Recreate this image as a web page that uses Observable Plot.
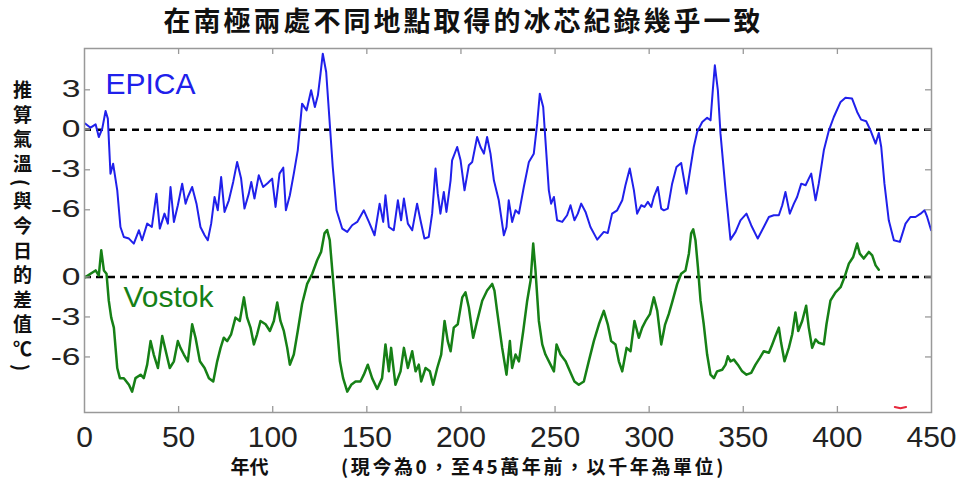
<!DOCTYPE html>
<html><head><meta charset="utf-8">
<script src="https://cdn.jsdelivr.net/npm/d3@7"></script>
<script src="https://cdn.jsdelivr.net/npm/@observablehq/plot@0.6"></script>
<style>body{margin:0;background:#fff;} svg{display:block;}</style>
</head><body><div id="chart"></div>
<script>
const titleText = "在南極兩處不同地點取得的冰芯紀錄幾乎一致";
const yLabel = "推算氣溫(與今日的差值℃)";
const xLabelMain = "年代";
const xLabelNote = "(現今為0，至45萬年前，以千年為單位)";
const seriesNames = ["EPICA", "Vostok"];
const xTicks = [0, 50, 100, 150, 200, 250, 300, 350, 400, 450];
const epicaTicks = [3, 0, -3, -6];
const vostokTicks = [0, -3, -6];
const vostokOffset = -11.04;

const epicaAge = [0.5,3.2,5.9,7.6,9.4,11.2,12.4,13.8,15.2,17.4,19.1,20.9,23.6,26.2,28.9,30.6,33.3,35.8,38.2,40.0,42.5,44.3,45.7,47.5,49.6,51.9,53.7,54.9,57.2,59.5,61.6,63.8,65.5,67.3,69.1,70.8,72.6,74.4,76.7,79.0,81.1,83.2,85.0,87.3,88.6,90.3,92.6,94.9,97.4,99.7,101.5,103.6,105.6,107.0,109.1,111.2,113.3,115.6,118.0,120.4,122.4,124.0,125.4,126.6,128.4,130.3,131.9,133.9,136.9,139.6,142.2,144.9,148.4,151.1,154.1,156.8,158.7,159.9,161.7,164.3,166.5,168.2,169.7,171.8,174.1,176.7,178.5,180.6,182.9,184.7,186.5,187.7,189.1,190.9,192.3,194.5,195.3,198.0,199.8,201.9,204.2,206.0,208.6,210.4,212.2,213.9,215.7,217.5,220.1,222.8,224.2,225.4,227.2,229.0,230.8,233.4,236.1,238.7,240.5,241.9,243.7,244.9,246.7,247.9,249.4,251.1,253.8,256.4,258.2,260.3,262.1,263.9,266.2,268.8,272.4,275.9,278.0,280.3,283.0,285.7,287.4,289.7,291.9,293.6,295.8,297.5,299.3,301.1,302.5,304.6,306.4,307.8,309.9,312.2,314.5,317.0,319.8,322.0,323.7,325.5,328.2,330.8,332.6,333.8,334.9,336.5,337.9,340.6,343.2,345.9,348.5,351.7,354.2,357.7,360.9,363.6,366.2,368.9,370.7,372.4,374.7,376.9,378.6,380.8,383.1,384.8,386.1,388.4,390.1,392.8,395.5,398.1,401.7,404.3,407.8,410.5,412.6,415.3,417.6,420.3,422.0,423.3,425.0,427.3,430.0,433.2,436.2,438.8,441.5,444.2,446.3,447.7,449.8];
const epicaTemp = [0.46,0.16,0.41,-0.54,0.07,1.41,0.84,-3.29,-2.54,-4.54,-7.29,-8.04,-8.16,-8.54,-7.54,-8.29,-7.04,-7.29,-4.79,-7.41,-6.29,-7.04,-4.29,-6.91,-5.66,-4.04,-5.54,-5.04,-4.29,-5.54,-7.29,-7.91,-8.29,-7.04,-5.04,-6.04,-3.54,-6.16,-5.29,-3.91,-2.41,-3.66,-5.91,-4.79,-3.91,-5.16,-3.41,-4.29,-3.99,-3.66,-5.79,-3.29,-2.84,-6.04,-4.91,-3.29,-1.54,1.96,1.46,2.96,1.71,2.59,4.21,5.71,4.34,0.46,-2.79,-6.04,-7.41,-7.66,-7.16,-6.91,-6.04,-6.91,-7.91,-5.54,-6.91,-4.91,-7.29,-7.54,-5.29,-6.79,-5.16,-7.04,-7.54,-5.54,-6.79,-8.16,-8.04,-6.29,-2.91,-4.79,-6.29,-4.66,-6.16,-3.79,-2.29,-1.29,-2.29,-4.54,-2.66,-2.41,-0.54,-1.29,-1.79,-0.54,-1.79,-3.79,-5.29,-7.91,-7.29,-5.29,-6.91,-6.04,-6.29,-4.29,-2.41,-1.79,0.46,2.71,1.71,-0.79,-4.54,-5.54,-5.04,-6.79,-6.91,-6.41,-5.66,-6.79,-6.29,-5.54,-6.16,-7.29,-8.24,-7.66,-7.74,-6.29,-6.04,-5.29,-4.16,-2.91,-4.54,-6.29,-5.66,-5.79,-5.41,-5.79,-5.04,-4.29,-5.91,-6.04,-5.91,-4.04,-2.79,-2.49,-4.79,-2.79,-1.29,-0.16,0.59,0.91,0.71,2.96,4.84,2.96,-0.29,-4.54,-8.24,-7.66,-6.79,-6.29,-7.16,-8.16,-7.29,-6.54,-6.41,-6.41,-5.66,-4.66,-6.29,-5.54,-5.04,-4.04,-4.16,-3.66,-3.29,-5.29,-4.04,-1.54,-0.04,0.96,2.09,2.41,2.34,1.34,0.76,0.64,-0.04,-1.04,-0.24,-1.29,-4.04,-6.79,-8.29,-8.41,-7.04,-6.54,-6.54,-6.29,-6.04,-6.54,-7.54];

const vostokAge = [0.5,3.2,5.9,7.6,8.9,10.3,11.7,12.9,14.2,15.6,17.4,18.8,20.9,23.6,25.3,27.1,29.8,31.5,33.3,35.1,36.8,39.0,41.3,43.6,45.3,47.5,49.6,51.0,52.8,54.9,57.2,59.0,61.3,63.8,66.1,68.4,70.5,72.3,74.0,75.8,77.9,80.2,82.5,84.7,86.4,88.2,90.0,91.7,93.5,96.2,98.5,100.6,102.4,104.1,105.9,107.7,109.1,111.2,113.3,115.6,118.3,121.0,123.6,125.7,127.5,128.9,130.3,132.1,133.9,135.7,137.4,139.6,141.7,144.0,146.6,148.4,150.5,152.8,155.5,158.1,159.9,161.7,162.9,165.2,167.9,169.7,171.8,174.1,175.9,177.6,178.9,181.2,183.5,185.2,187.4,189.5,191.3,193.0,194.5,196.2,198.3,200.7,202.4,204.2,206.5,208.6,211.3,213.9,216.6,217.8,219.2,221.9,224.2,226.0,227.2,229.0,230.8,233.1,235.2,237.0,238.4,239.6,241.4,243.2,244.9,247.6,249.4,250.8,252.9,255.6,257.9,260.3,262.6,265.3,267.9,270.6,273.3,275.9,278.0,279.8,282.1,283.9,285.7,288.0,290.1,292.2,294.5,296.3,298.1,300.4,302.5,304.3,306.4,308.4,310.4,312.2,314.9,317.0,319.3,321.1,322.3,323.4,324.6,325.9,327.3,329.0,330.8,332.6,334.4,336.1,338.8,340.6,341.8,343.2,345.0,347.1,349.4,351.7,354.2,356.5,358.8,360.9,363.6,365.4,367.1,368.9,370.1,371.9,374.2,376.0,377.7,379.2,381.3,383.4,384.8,386.6,388.4,390.1,392.8,394.2,396.3,399.0,401.7,403.8,406.1,408.4,410.5,411.9,414.0,416.7,418.5,420.3,422.0];
const vostokTemp = [-0.01,0.24,0.49,0.11,2.0,0.49,0.24,-1.78,-3.05,-3.8,-6.83,-7.59,-7.59,-8.09,-8.6,-7.59,-7.33,-7.59,-6.58,-4.81,-5.82,-6.83,-4.43,-5.82,-6.83,-6.33,-4.81,-5.32,-5.82,-6.33,-3.55,-4.56,-6.33,-6.83,-7.59,-7.84,-6.33,-5.32,-4.56,-4.81,-4.3,-3.05,-3.3,-1.53,-3.05,-3.8,-5.06,-4.3,-3.3,-3.55,-4.05,-3.3,-1.91,-3.3,-4.05,-5.32,-6.58,-5.82,-4.05,-2.03,-0.52,0.24,1.25,1.88,3.27,3.52,2.76,-0.27,-3.3,-6.33,-7.59,-8.6,-8.09,-7.84,-7.84,-7.33,-6.58,-7.59,-8.4,-7.59,-5.06,-7.08,-5.32,-8.09,-7.08,-5.32,-6.83,-5.57,-7.08,-6.58,-7.84,-6.83,-7.08,-8.09,-6.83,-5.82,-3.3,-4.81,-5.57,-3.8,-3.55,-1.53,-1.15,-2.29,-4.56,-3.3,-1.78,-1.02,-0.52,-1.02,-2.54,-5.32,-7.33,-4.81,-6.83,-5.82,-6.33,-4.05,-1.78,-0.27,2.51,0.49,-3.3,-5.06,-5.82,-6.58,-7.08,-5.06,-5.82,-6.33,-7.08,-7.84,-8.09,-7.84,-6.33,-4.81,-3.55,-2.54,-3.55,-4.81,-5.06,-6.33,-7.08,-5.32,-5.57,-3.3,-4.56,-3.8,-3.3,-2.79,-1.53,-2.54,-5.06,-3.6,-2.79,-1.91,-0.52,0.24,0.49,1.75,3.27,3.57,2.76,0.74,-1.78,-3.55,-5.82,-7.33,-7.59,-7.08,-6.96,-6.58,-5.95,-6.33,-6.2,-6.58,-7.08,-7.33,-7.2,-6.58,-6.07,-5.57,-5.69,-5.06,-4.43,-3.8,-4.94,-6.33,-5.32,-4.3,-2.66,-4.05,-3.3,-2.16,-3.8,-5.32,-4.69,-4.94,-5.06,-3.55,-1.78,-1.15,-0.77,-0.01,1.0,1.5,2.51,1.75,1.38,1.88,1.62,0.87,0.54];

const redMarkAge = [430.5, 433.5, 436.5];
const redMarkTemp = [-9.75, -9.85, -9.75];

const epica = epicaAge.map((a, i) => ({age: a, temp: epicaTemp[i]}));
const vostok = vostokAge.map((a, i) => ({age: a, temp: vostokTemp[i] + vostokOffset}));
const redMark = redMarkAge.map((a, i) => ({age: a, temp: redMarkTemp[i] + vostokOffset}));

const yTickLabels = ["3", "0", "-3", "-6", "0", "-3", "-6"];
const yTickPos = [...epicaTicks, ...vostokTicks.map(t => t + vostokOffset)];
const yLabelMap = new Map(yTickPos.map((p, i) => [p, yTickLabels[i]]));

const W = 959, H = 488, ML = 84, MR = 28, MT = 48, MB = 76;
const PW = W - ML - MR, PH = H - MT - MB;
const BLUE = "rgb(32,32,235)", GREEN = "rgb(22,128,22)";
const CJK = "'Noto Sans CJK TC', 'Noto Sans CJK SC', sans-serif";

const chart = Plot.plot({
  width: W, height: H,
  marginLeft: ML, marginRight: MR, marginTop: MT, marginBottom: MB,
  style: {fontFamily: "'Liberation Sans', Arial, sans-serif", background: "#fff", overflow: "visible"},
  x: {domain: [0, 450]},
  y: {domain: [-(H - MB - 129.3) / 13.33, (129.3 - MT) / 13.33]},
  marks: [
    Plot.ruleY([0, vostokOffset], {stroke: "black", strokeWidth: 2.6, strokeDasharray: "7,5"}),
    Plot.line(epica, {x: "age", y: "temp", stroke: BLUE, strokeWidth: 2}),
    Plot.line(vostok, {x: "age", y: "temp", stroke: GREEN, strokeWidth: 2.5}),
    Plot.line(redMark, {x: "age", y: "temp", stroke: "rgb(230,40,60)", strokeWidth: 2}),
    Plot.frame({stroke: "#999", strokeWidth: 1.5}),
    Plot.tickY(yTickPos, {y: d => d, stroke: "#999", strokeWidth: 1.3, insetRight: PW - 6}),
    Plot.tickY(yTickPos, {y: d => d, stroke: "#999", strokeWidth: 1.3, insetLeft: PW - 6}),
    Plot.tickX(xTicks.slice(1, -1), {x: d => d, stroke: "#999", strokeWidth: 1.3, insetBottom: PH - 6}),
    Plot.tickX(xTicks.slice(1, -1), {x: d => d, stroke: "#999", strokeWidth: 1.3, insetTop: PH - 6}),
    Plot.axisX(xTicks, {anchor: "bottom", tickSize: 0, tickPadding: 13, fontSize: 30, fill: "#222", label: null}),
    Plot.axisY(yTickPos, {anchor: "left", tickSize: 0, tickPadding: 4, fontSize: 24, fill: "#222", label: null, tickFormat: d => yLabelMap.get(d)}),
    Plot.text([seriesNames[0]], {frameAnchor: "top-left", dx: 21, dy: 24, fontSize: 30, fill: BLUE, textAnchor: "start", lineAnchor: "top"}),
    Plot.text([seriesNames[1]], {frameAnchor: "top-left", dx: 39, dy: 237, fontSize: 30, fill: GREEN, textAnchor: "start", lineAnchor: "top"}),
    Plot.text([titleText], {frameAnchor: "top-left", dx: 379, dy: -26, fontSize: 27, fontWeight: "bold", fill: "#111", fontFamily: CJK, textAnchor: "middle", lineAnchor: "middle"}),
    Plot.text([yLabel], {frameAnchor: "left", dx: -62, dy: -8, fontSize: 19, fontWeight: "bold", fill: "#111", fontFamily: CJK, textAnchor: "middle", lineAnchor: "middle"}),
    Plot.text([xLabelMain], {frameAnchor: "bottom-left", dx: 165, dy: 55, fontSize: 19, fontWeight: "bold", fill: "#111", fontFamily: CJK, textAnchor: "middle", lineAnchor: "middle"}),
    Plot.text([xLabelNote], {frameAnchor: "bottom-left", dx: 449, dy: 55, fontSize: 19, fontWeight: "bold", fill: "#111", fontFamily: CJK, textAnchor: "middle", lineAnchor: "middle"})
  ]
});

document.getElementById("chart").appendChild(chart);
const svg = d3.select(chart);
svg.selectAll("text").each(function() {
  const t = this.textContent;
  const sel = d3.select(this);
  if (t === titleText) sel.style("letter-spacing", "3px");
  if (t === yLabel) sel.style("writing-mode", "vertical-rl").style("letter-spacing", "5.6px");
  if (t === xLabelNote) sel.style("letter-spacing", "2.6px");
});
svg.selectAll('g[aria-label="y-axis tick label"] text').each(function() {
  const tr = this.getAttribute("transform");
  if (tr) this.setAttribute("transform", tr + " scale(1.4,1)");
});
</script></body></html>
